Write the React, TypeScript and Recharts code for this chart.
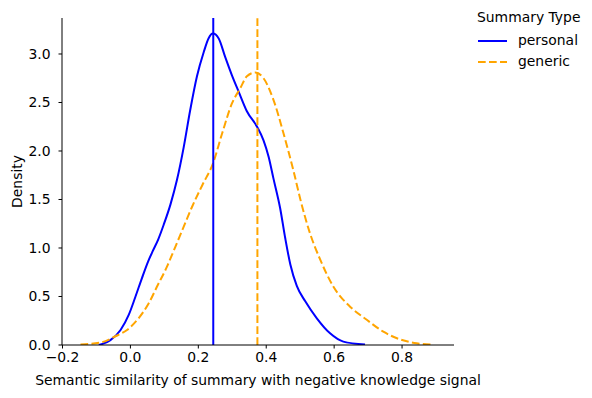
import React from 'react';
import { ComposedChart, Line, XAxis, YAxis, ReferenceLine, Label } from 'recharts';

// KDE curves
const personalX = [-0.093, -0.059, -0.029, -0.005, 0.015, 0.034, 0.052, 0.066, 0.082, 0.098, 0.118, 0.137, 0.157, 0.176, 0.196, 0.216, 0.23, 0.243, 0.26, 0.279, 0.299, 0.319, 0.343, 0.373, 0.392, 0.407, 0.421, 0.441, 0.456, 0.471, 0.49, 0.515, 0.549, 0.588, 0.627, 0.691];
const personalY = [0, 0.05, 0.155, 0.31, 0.5, 0.69, 0.86, 0.97, 1.09, 1.24, 1.45, 1.7, 2.04, 2.42, 2.77, 3.02, 3.16, 3.21, 3.16, 2.97, 2.78, 2.61, 2.41, 2.25, 2.11, 1.94, 1.72, 1.41, 1.1, 0.83, 0.61, 0.45, 0.275, 0.12, 0.035, 0.005];

const genericX = [-0.147, -0.088, -0.044, -0.01, 0.024, 0.054, 0.078, 0.108, 0.132, 0.157, 0.181, 0.212, 0.243, 0.27, 0.299, 0.324, 0.343, 0.368, 0.392, 0.421, 0.451, 0.48, 0.502, 0.529, 0.559, 0.598, 0.647, 0.696, 0.745, 0.794, 0.843, 0.892];
const genericY = [0.005, 0.025, 0.09, 0.155, 0.275, 0.43, 0.6, 0.81, 1.01, 1.22, 1.42, 1.65, 1.87, 2.18, 2.49, 2.65, 2.77, 2.81, 2.75, 2.53, 2.18, 1.8, 1.48, 1.15, 0.88, 0.6, 0.395, 0.26, 0.137, 0.058, 0.017, 0.003];

// means drawn as vertical lines
const personalMean = 0.244;
const genericMean = 0.374;

const xTicks = [-0.2, 0, 0.2, 0.4, 0.6, 0.8];
const yTicks = [0, 0.5, 1, 1.5, 2, 2.5, 3];

const personal = personalX.map((x, i) => ({ x, y: personalY[i] }));
const generic = genericX.map((x, i) => ({ x, y: genericY[i] }));

const FONT = 'DejaVu Sans, sans-serif';
const BLUE = '#0000ff';
const ORANGE = '#ffa500';
const DASH = '7.7 3.3';

const fmt = (v: number) => {
  const s = v.toFixed(1);
  return s.startsWith('-') ? '\u2212' + s.slice(1) : s;
};

function LegendBox() {
  const row = (label: string, color: string, dash?: string) => (
    <div style={{ display: 'flex', alignItems: 'center', height: 21 }}>
      <svg width={41} height={10}>
        <line x1={1} x2={30} y1={5} y2={5} stroke={color} strokeWidth={2} strokeDasharray={dash} />
      </svg>
      <span>{label}</span>
    </div>
  );
  return (
    <div
      style={{
        position: 'absolute',
        left: 477,
        top: 11,
        fontFamily: FONT,
        fontSize: 13.9,
        color: '#000',
        lineHeight: 1,
      }}
    >
      <div style={{ marginBottom: 6 }}>Summary Type</div>
      {row('personal', BLUE)}
      {row('generic', ORANGE, DASH)}
    </div>
  );
}

export default function App() {
  return (
    <div style={{ position: 'absolute', left: 0, top: 0, width: 592, height: 398, background: '#fff' }}>
      <ComposedChart width={592} height={398} margin={{ top: 18, right: 138, bottom: 0, left: 0 }}>
        <XAxis
          type="number"
          dataKey="x"
          domain={[-0.2015, 0.953]}
          allowDataOverflow
          ticks={xTicks}
          tickFormatter={fmt}
          height={53}
          tickSize={3.5}
          tickMargin={4}
          stroke="#000"
          tick={{ fill: '#000', fontSize: 13.9, fontFamily: FONT }}
        >
          <Label
            value="Semantic similarity of summary with negative knowledge signal"
            position="insideBottom"
            offset={13}
            style={{ fill: '#000', fontSize: 13.9, fontFamily: FONT }}
          />
        </XAxis>
        <YAxis
          type="number"
          domain={[0, 3.371]}
          allowDataOverflow
          ticks={yTicks}
          tickFormatter={fmt}
          width={62}
          tickSize={3.5}
          tickMargin={8}
          stroke="#000"
          tick={{ fill: '#000', fontSize: 13.9, fontFamily: FONT }}
        >
          <Label
            value="Density"
            angle={-90}
            position="insideLeft"
            offset={17}
            style={{ fill: '#000', fontSize: 13.9, fontFamily: FONT, textAnchor: 'middle' }}
          />
        </YAxis>
        <Line
          data={personal}
          dataKey="y"
          name="personal"
          type="monotone"
          stroke={BLUE}
          strokeWidth={2}
          dot={false}
          isAnimationActive={false}
        />
        <Line
          data={generic}
          dataKey="y"
          name="generic"
          type="monotone"
          stroke={ORANGE}
          strokeWidth={2}
          strokeDasharray={DASH}
          dot={false}
          isAnimationActive={false}
        />
        <ReferenceLine x={personalMean} stroke={BLUE} strokeWidth={2} />
        <ReferenceLine x={genericMean} stroke={ORANGE} strokeWidth={2} strokeDasharray={DASH} />
      </ComposedChart>
      <LegendBox />
    </div>
  );
}
